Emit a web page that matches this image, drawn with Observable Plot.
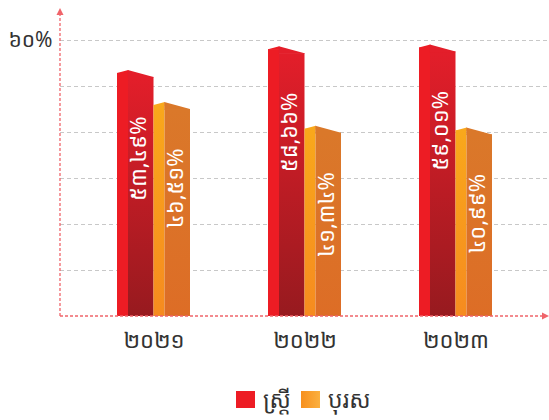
<!DOCTYPE html>
<html><head><meta charset="utf-8">
<script src="https://cdn.jsdelivr.net/npm/d3@7"></script>
<script src="https://cdn.jsdelivr.net/npm/@observablehq/plot@0.6"></script>
<style>
html,body{margin:0;padding:0;background:#fff;}
body{width:549px;height:420px;position:relative;overflow:hidden;font-family:"Noto Sans Khmer","Khmer OS","Khmer OS System","Noto Sans","DejaVu Sans",sans-serif;}
#chart{position:absolute;left:0;top:0;}
#legend{position:absolute;left:236px;top:370px;height:58px;display:flex;align-items:center;color:#333;font-size:23px;}
.item{display:flex;align-items:center;margin-right:10px;}
.sw{width:19px;height:17px;margin-right:8px;}
</style></head><body>
<div id="chart"></div>
<div id="legend"></div>
<script>
// ---- data ----
const years = ["២០២១", "២០២២", "២០២៣"];
const female = [53.49, 58.66, 59.01];
const male = [46.51, 41.34, 40.99];
const seriesNames = ["ស្ត្រី", "បុរស"];
const gridTicks = [10, 20, 30, 40, 50, 60];
const labelTicks = [60];

// ---- helpers ----
const kd = "០១២៣៤៥៦៧៨៩";
const khmer = s => String(s).replace(/\d/g, d => kd[+d]);
const fmtPct = v => khmer(v.toFixed(2).replace(".", ",")) + "%";

const fData = years.map((y, i) => ({year: y, value: female[i], label: fmtPct(female[i])}));
const mData = years.map((y, i) => ({year: y, value: male[i], label: fmtPct(male[i])}));

const FONT = '"Noto Sans Khmer","Khmer OS","Khmer OS System","Noto Sans","DejaVu Sans",sans-serif';
const AXIS = "#f0646a";

function roofs(index, scales) {
  const {x, y} = scales;
  const bw = x.bandwidth();
  const g = d3.create("svg:g");
  years.forEach((yr, i) => {
    [[female[i], 0, "#ed1c24", "#e31e2a"], [male[i], bw / 2, "#f9a81b", "#da782a"]].forEach(([v, off, c1, c2]) => {
      const L = x(yr) + off, y0 = y(v), R = L + bw / 2;
      g.append("path").attr("d", `M${L},${y0 + 3}L${L + 11.3},${y0}L${L + 11.3},${y0 + 3.6}L${L},${y0 + 3.6}Z`).attr("fill", c1);
      g.append("path").attr("d", `M${L + 10.8},${y0}L${R},${y0 + 7}L${R},${y0 + 7.6}L${L + 10.8},${y0 + 7.6}Z`).attr("fill", c2);
    });
  });
  return g.node();
}

function axesLines(index, scales, values, dims) {
  const {y} = scales;
  const {marginLeft, width} = dims;
  const y0 = y(0);
  const g = d3.create("svg:g");
  g.append("line").attr("x1", marginLeft).attr("x2", marginLeft).attr("y1", y0).attr("y2", 14)
    .attr("stroke", AXIS).attr("stroke-width", 1.3).attr("stroke-dasharray", "3,2");
  g.append("path").attr("d", `M${marginLeft},8L${marginLeft - 3.5},15L${marginLeft + 3.5},15Z`).attr("fill", AXIS);
  g.append("line").attr("x1", marginLeft).attr("x2", width - 6).attr("y1", y0).attr("y2", y0)
    .attr("stroke", AXIS).attr("stroke-width", 1.3).attr("stroke-dasharray", "3,2");
  g.append("path").attr("d", `M${width},${y0}L${width - 7},${y0 - 3.5}L${width - 7},${y0 + 3.5}Z`).attr("fill", AXIS);
  return g.node();
}

const chart = Plot.plot({
  width: 549,
  height: 370,
  marginLeft: 60,
  marginRight: 0,
  marginTop: 40,
  marginBottom: 54,
  style: {fontFamily: FONT, background: "#fff", overflow: "visible"},
  x: {domain: years, paddingInner: 0.5166, paddingOuter: 0.3775, label: null},
  y: {domain: [0, 60], label: null},
  marks: [
    Plot.gridY(gridTicks, {stroke: "#c8c8c8", strokeOpacity: 1, strokeDasharray: "4,3"}),
    Plot.axisY(labelTicks, {tickSize: 0, tickPadding: 8, fontSize: 21, fill: "#333", label: null, tickFormat: d => khmer(d) + "%"}),
    Plot.axisX({tickSize: 0, tickPadding: 16, fontSize: 22, fill: "#333", label: null}),
    // female bars: side strip + front face
    Plot.barY(fData, {x: "year", y: "value", fill: "#ed1c24", insetLeft: 0, insetRight: 62, insetTop: 3}),
    Plot.barY(fData, {x: "year", y: "value", fill: "url(#fFace)", insetLeft: 11, insetRight: 36.5, insetTop: 7}),
    // male bars
    Plot.barY(mData, {x: "year", y: "value", fill: "url(#mSide)", insetLeft: 36.5, insetRight: 25.5, insetTop: 3}),
    Plot.barY(mData, {x: "year", y: "value", fill: "url(#mFace)", insetLeft: 47.5, insetRight: 0, insetTop: 7}),
    roofs,
    Plot.text(fData, {x: "year", y: "value", text: "label", rotate: -90, textAnchor: "end", dx: -15, dy: 46, fill: "#fff", fontSize: 22}),
    Plot.text(mData, {x: "year", y: "value", text: "label", rotate: -90, textAnchor: "end", dx: 22, dy: 46, fill: "#fff", fontSize: 22}),
    axesLines
  ]
});

const defs = d3.create("svg:defs");
function vgrad(id, top, bottom) {
  const gr = defs.append("linearGradient").attr("id", id).attr("x1", 0).attr("y1", 0).attr("x2", 0).attr("y2", 1);
  gr.append("stop").attr("offset", 0).attr("stop-color", top);
  gr.append("stop").attr("offset", 1).attr("stop-color", bottom);
}
vgrad("fFace", "#e31e2a", "#971a1f");
vgrad("mSide", "#f9a81b", "#f68b1f");
vgrad("mFace", "#da782a", "#dd6d26");
chart.insertBefore(defs.node(), chart.firstChild);
document.getElementById("chart").appendChild(chart);

// legend
const legendColors = ["#ed1c24", "linear-gradient(to right,#f7901e,#fbb03f)"];
const legend = d3.select("#legend");
seriesNames.forEach((name, i) => {
  const it = legend.append("div").attr("class", "item");
  it.append("div").attr("class", "sw").style("background", legendColors[i]);
  it.append("span").text(name);
});
</script>
</body></html>
